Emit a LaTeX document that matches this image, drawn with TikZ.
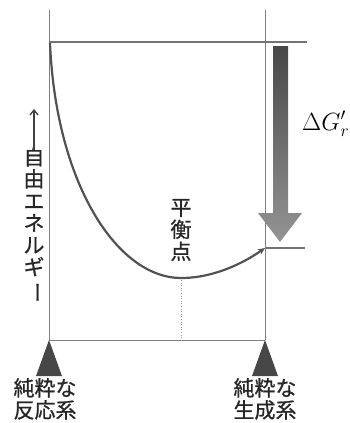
\documentclass[tikz,border=0pt]{standalone}
\usepackage{fontspec}
\usepackage{graphicx}
\newfontfamily\jafont[FakeBold=0.8]{Noto Sans CJK JP}
\usetikzlibrary{arrows.meta,positioning,calc}

\begin{document}
\begin{tikzpicture}[x=1pt, y=-1pt, >={Stealth[length=6pt]},
  axis/.style={draw=black!50, line width=0.9pt},
  level/.style={draw=black!55, line width=1.6pt},
  jtext/.style={font=\jafont\fontsize{21}{22}\selectfont, inner sep=0pt, align=center, text=black!85},
  post/.style={fill=black!72}]
\useasboundingbox (0,0) rectangle (350,423);
% frame
\draw[axis] (49,10) -- (49,340) -- (265,340);
\draw[axis] (265,10) -- (265,340);
\draw[level] (49,42) -- (307,42);
\draw[level] (265,248) -- (305,248);
% triangles
\fill[post] (49,340) -- (62,376) -- (36,376) -- cycle;
\fill[post] (265,340) -- (278,376) -- (252,376) -- cycle;
% equilibrium
\draw[black!40, line width=0.6pt, dotted] (181,280) -- (181,340);
\node[jtext] (eq) at (181,230) {平\\衡\\点};
% free energy curve
\coordinate (start) at (50,43);
\coordinate (minpt) at (181,278);
\coordinate (final) at (265,248);
\draw[black!68, line width=2.2pt, ->, >={Stealth[length=7pt,width=6pt]}] (start) .. controls (56,185) and (118,278) .. (minpt)
  .. controls (215,278) and (245,262) .. (final);
% delta G arrow
\shade[top color=black!72, bottom color=black!42]
  (273,46) -- (288,46) -- (288,213) -- (302,213) -- (280,242) -- (258,213) -- (273,213) -- cycle;
\node[anchor=base west, inner sep=0pt, font=\fontsize{24}{28}\selectfont] (dg) at (302,130) {$\Delta G'_{r}$};
% y label
\node[jtext] (ylab) at (34,225) {自\\由\\エ\\ネ\\ル\\ギ\\\rotatebox[origin=c]{-90}{ー}};
\coordinate[above=38pt of ylab.north] (ytop);
\draw[black!75, line width=1.3pt, -{Straight Barb[length=5pt,width=8pt]}] ([yshift=-3pt]ylab.north) -- (ytop);
% end labels
\node[jtext, anchor=north, align=center] (react) at (45,378) {純粋な\\反応系};
\node[jtext, anchor=north, align=center] (prod) at (265,378) {純粋な\\生成系};
\end{tikzpicture}
\end{document}
